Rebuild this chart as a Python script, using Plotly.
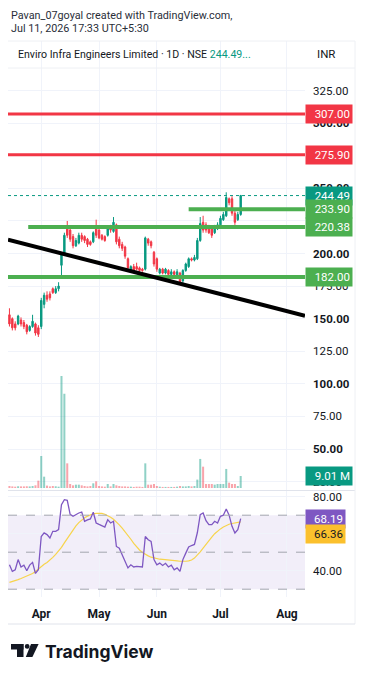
import plotly.graph_objects as go

# ---------------- data ----------------
bar_index = list(range(81))
opens = [153,150,146,146,149,147,145,141,144,146,143,
         144,161,168,169,173,170,173,191,200,220,218,213,206,208,214,213,211,209,209,
         220,218,214,213,214,220,217,222,211,207,205,196,187,190,190,189,188,188,211,209,
         201,196,185,188,185,187,184,186,183,185,179,187,190,196,195,196,210,224,222,220,
         219,216,219,222,226,229,242,242,231,226,230]
highs = [158,151,148,153,151,149,146,145,153,147,145,
         166,170,171,171,174,175,178,201,216,225,220,215,212,216,216,214,212,210,217,
         226,219,215,214,220,222,228,223,213,209,206,197,191,192,193,190,189,213,212,210,
         202,197,189,189,189,188,188,187,188,186,188,193,197,197,199,212,228,229,224,222,
         220,222,224,229,232,247,243,244,233,232,245]
lows = [144,141,141,145,144,142,138,140,143,137,136,
        142,158,163,164,169,169,171,183,199,212,209,204,205,207,209,208,205,206,208,
        212,211,210,209,213,216,216,207,204,202,196,187,186,185,187,186,186,187,206,204,
        190,186,184,184,184,183,183,183,182,176,177,186,189,194,194,195,209,216,216,215,
        212,215,218,221,225,228,237,229,222,225,229]
closes = [146,143,143,152,146,144,140,144,148,139,138,
          164,168,165,166,170,173,175,200,214,214,211,206,210,214,211,210,207,207,216,
          214,212,211,210,219,218,224,209,206,204,198,189,190,187,188,187,187,212,208,206,
          192,188,188,185,188,184,186,184,186,178,187,192,196,195,197,210,223,218,218,216,
          214,220,222,227,230,243,239,231,224,230,244.49]
volumes_m = [1.5,1.2,1.0,1.3,1.2,1.2,1.3,1.2,1.5,2.0,5.5,
             24,8.5,1.8,1.2,1.5,1.3,1.0,84,70.7,18.5,3,2,2.5,2.5,2.0,1.5,1.2,1.5,3.5,
             5.0,1.5,1.2,1.0,3.0,1.2,3.0,2.0,1.5,1.2,1.2,1.0,1.0,0.8,1.0,1.0,0.8,18.5,2.5,2.5,
             3.0,1.5,1.0,0.8,0.8,0.8,0.8,0.8,1.0,1.5,1.2,1.2,1.5,1.2,1.5,6.3,21.8,16,3,3,
             3,2.5,3,3,3,14.3,4,3,3,1.5,9.01]
rsi = [43.2,39.6,40.5,46,42,43,40,43,44.5,38.5,40.5,
       58.5,60.4,59.5,57.7,61.3,61.3,62.2,75.7,78.4,78,70.5,69.4,70.5,71.2,71.7,66.7,67.5,68,71.6,
       65.8,65,64.5,63.6,67.6,65.8,66.7,53.1,52.2,48.6,45,41.5,43.2,42,42.3,42,42,58.5,56.7,55.8,
       46,43.2,44.1,42.8,44,42,43,40.5,41.5,39.6,46,49.5,52.8,53.6,54.2,60.5,70.3,71.2,67,64.9,
       64.9,66.7,65.8,69.4,70,73.3,70,64,60.4,62.2,68.19]
rsi_ma = [33.7,34.1,34.6,35.2,35.8,36.4,37.0,37.7,38.5,39.6,40.9,
          42.5,43.5,44.4,45.6,47.2,48.8,50.6,52.6,55.0,57.4,59.6,62.0,64.2,66.0,67.5,68.6,69.5,70.2,70.7,
          71.0,71.2,71.0,70.5,69.8,68.9,67.8,66.5,64.8,63.0,61.2,59.2,57.0,54.8,52.8,51.2,49.8,48.8,48.0,47.3,
          46.8,46.4,46.2,46.1,46.0,45.9,45.7,45.5,45.3,45.1,45.0,45.1,45.3,45.8,46.8,48.4,50.2,52.2,54.4,56.4,
          58.2,60.0,61.4,62.6,63.6,64.5,65.1,65.5,65.8,66.1,66.36]
month_tick_index = [11, 31, 51, 73, 96]
month_labels = ["Apr", "May", "Jun", "Jul", "Aug"]
price_ticks = [25, 50, 75, 100, 125, 150, 175, 200, 225, 250, 275, 300, 325]
rsi_ticks = [40, 60, 80]
resistance_levels = [307.00, 275.90]
support_levels = [233.90, 220.38, 182.00]
support_start_index = [62, 6.5, -1]
trend_x = [-0.5, 102.25]
trend_y = [210.6, 152.3]
last_price = 244.49
last_volume_m = 9.01
rsi_last = 68.19
rsi_ma_last = 66.36

# ---------------- style / geometry ----------------
W, H = 365, 679
L, R, T, B = 8, 60, 41, 82
PW, PH = W - L - R, H - T - B
X_RANGE = [-0.5, 102.25]
GREEN_C = "#089981"
RED_C = "#f23645"
LEVEL_G = "#4caf50"
GRID = "#f0f3fa"
TXT = "#131722"
FONT = "Roboto"


def PX(px):
    return (px - L) / PW


def PY(py):
    return (H - B - py) / PH


vol_colors = ["rgba(8,153,129,0.45)" if c >= o else "rgba(242,54,69,0.45)"
              for o, c in zip(opens, closes)]

fig = go.Figure()
fig.add_trace(go.Bar(x=bar_index, y=volumes_m, marker_color=vol_colors, marker_line_width=0,
                     width=0.7, xaxis="x", yaxis="y3", hoverinfo="skip"))
fig.add_trace(go.Candlestick(x=bar_index, open=opens, high=highs, low=lows, close=closes,
                             increasing=dict(line=dict(color=GREEN_C, width=1), fillcolor=GREEN_C),
                             decreasing=dict(line=dict(color=RED_C, width=1), fillcolor=RED_C),
                             whiskerwidth=0, xaxis="x", yaxis="y"))
fig.add_trace(go.Scatter(x=bar_index, y=rsi_ma, mode="lines", line=dict(color="#f7d44c", width=1.2),
                         xaxis="x2", yaxis="y2", hoverinfo="skip"))
fig.add_trace(go.Scatter(x=bar_index, y=rsi, mode="lines", line=dict(color="#7e57c2", width=1.3),
                         xaxis="x2", yaxis="y2", hoverinfo="skip"))

shapes = []
# RSI band and guide lines
shapes.append(dict(type="rect", xref="x2", yref="y2", x0=X_RANGE[0], x1=X_RANGE[1], y0=30, y1=70,
                   fillcolor="rgba(126,87,194,0.1)", line_width=0, layer="below"))
for lv in [70, 50, 30]:
    shapes.append(dict(type="line", xref="x2", yref="y2", x0=X_RANGE[0], x1=X_RANGE[1], y0=lv, y1=lv,
                       line=dict(color="#a3a6af", width=1, dash="dash")))
# last price dotted line
shapes.append(dict(type="line", xref="x", yref="y", x0=X_RANGE[0], x1=X_RANGE[1], y0=last_price,
                   y1=last_price, line=dict(color=GREEN_C, width=1, dash="dot")))
for lv in resistance_levels:
    shapes.append(dict(type="line", xref="x", yref="y", x0=-1, x1=X_RANGE[1], y0=lv, y1=lv,
                       line=dict(color=RED_C, width=3)))
for lv, st in zip(support_levels, support_start_index):
    shapes.append(dict(type="line", xref="x", yref="y", x0=st, x1=X_RANGE[1], y0=lv, y1=lv,
                       line=dict(color=LEVEL_G, width=4)))
shapes.append(dict(type="line", xref="x", yref="y", x0=trend_x[0], x1=trend_x[1], y0=trend_y[0],
                   y1=trend_y[1], line=dict(color="#000000", width=4)))
# pane separators / frame
shapes.append(dict(type="line", xref="paper", yref="paper", x0=0, x1=PX(355), y0=PY(490.5), y1=PY(490.5),
                   line=dict(color="#e0e3eb", width=1)))
shapes.append(dict(type="line", xref="paper", yref="paper", x0=PX(355), x1=PX(355), y0=PY(624), y1=PY(41),
                   line=dict(color="#eef0f4", width=1)))
shapes.append(dict(type="line", xref="paper", yref="paper", x0=0, x1=PX(355), y0=PY(624), y1=PY(624),
                   line=dict(color="#e0e3eb", width=1)))
shapes.append(dict(type="line", xref="paper", yref="paper", x0=0, x1=PX(355), y0=PY(41), y1=PY(41),
                   line=dict(color="#eef0f4", width=1)))
shapes.append(dict(type="line", xref="paper", yref="paper", x0=0, x1=PX(355), y0=PY(68), y1=PY(68),
                   line=dict(color="#eef0f4", width=1)))
# TradingView logo mark
shapes.append(dict(type="rect", xref="paper", yref="paper", x0=PX(11), x1=PX(23.5), y0=PY(649.5), y1=PY(644),
                   fillcolor="#131722", line_width=0))
shapes.append(dict(type="rect", xref="paper", yref="paper", x0=PX(17), x1=PX(23.5), y0=PY(657), y1=PY(644),
                   fillcolor="#131722", line_width=0))
shapes.append(dict(type="circle", xref="paper", yref="paper", x0=PX(24.8), x1=PX(29.6), y0=PY(648.8),
                   y1=PY(644), fillcolor="#131722", line_width=0))
shapes.append(dict(type="path", xref="paper", yref="paper",
                   path=f"M {PX(31)} {PY(644)} L {PX(38.6)} {PY(644)} L {PX(32.4)} {PY(657)} L {PX(25.8)} {PY(657)} Z",
                   fillcolor="#131722", line_width=0))

ann = []


def price_label(val, text, bg, yref, fg="white", width=42, yshift=0):
    ann.append(dict(x=1, xref="paper", y=val, yref=yref, xanchor="left", yanchor="middle",
                    text=text, showarrow=False, bgcolor=bg, borderpad=2, width=width, align="right",
                    yshift=yshift, font=dict(family=FONT, size=11.5, color=fg)))


for lv in resistance_levels:
    price_label(lv, f"{lv:.2f}", RED_C, "y")
price_label(last_price, f"{last_price:.2f}", GREEN_C, "y")
for lv in support_levels:
    price_label(lv, f"{lv:.2f}", LEVEL_G, "y")
price_label(last_volume_m, f"{last_volume_m:.2f} M", GREEN_C, "y3")
price_label(rsi_last, f"{rsi_last:.2f}", "#7e57c2", "y2", width=35)
# stacked below the RSI label, as the platform does to avoid overlap
price_label(rsi_ma_last, f"{rsi_ma_last:.2f}", "#fbc02d", "y2", fg=TXT, width=35, yshift=-12)

ann.append(dict(x=PX(9), y=PY(15), xref="paper", yref="paper", xanchor="left", yanchor="middle",
                text="Pavan_07goyal created with TradingView.com,", showarrow=False,
                font=dict(family=FONT, size=10.8, color="#2a2e39")))
ann.append(dict(x=PX(9), y=PY(29), xref="paper", yref="paper", xanchor="left", yanchor="middle",
                text="Jul 11, 2026 17:33 UTC+5:30", showarrow=False,
                font=dict(family=FONT, size=10.8, color="#2a2e39")))
ann.append(dict(x=PX(16), y=PY(54.5), xref="paper", yref="paper", xanchor="left", yanchor="middle",
                text=f"Enviro Infra Engineers Limited · 1D · NSE <span style='color:{GREEN_C}'>{last_price:.2f}...</span>",
                showarrow=False, font=dict(family=FONT, size=10.6, color=TXT)))
ann.append(dict(x=PX(326), y=PY(54.5), xref="paper", yref="paper", xanchor="center", yanchor="middle",
                text="INR", showarrow=False, font=dict(family=FONT, size=11.5, color=TXT)))
ann.append(dict(x=PX(43), y=PY(651), xref="paper", yref="paper", xanchor="left", yanchor="middle",
                text="<b>TradingView</b>", showarrow=False, font=dict(family="Inter", size=17.5, color="#131722")))

price_ticktext = [f"<b>{v:.2f}</b>" if v % 50 == 0 else f"{v:.2f}" for v in price_ticks]

main_bottom = PY(490)
rsi_top = PY(491)

fig.update_layout(
    width=W, height=H, margin=dict(l=L, r=R, t=T, b=B),
    paper_bgcolor="white", plot_bgcolor="white", showlegend=False,
    font=dict(family=FONT, color=TXT),
    shapes=shapes, annotations=ann,
    xaxis=dict(domain=[0, 1], anchor="y", range=X_RANGE, tickvals=month_tick_index, showticklabels=False,
               showgrid=True, gridcolor=GRID, zeroline=False, rangeslider=dict(visible=False), fixedrange=True),
    xaxis2=dict(domain=[0, 1], anchor="y2", range=X_RANGE, matches="x", tickvals=month_tick_index,
                ticktext=[f"<b>{m}</b>" for m in month_labels], showgrid=True, gridcolor=GRID,
                zeroline=False, tickfont=dict(family=FONT, size=12, color=TXT), ticks="", ticklabelstandoff=8),
    yaxis=dict(domain=[main_bottom, 1], anchor="x", side="right", range=[18.55, 363.1], tickvals=price_ticks,
               ticktext=price_ticktext, showgrid=True, gridcolor=GRID, zeroline=False,
               tickfont=dict(family=FONT, size=11.5, color=TXT), ticks="", ticklabelstandoff=7),
    yaxis3=dict(overlaying="y", anchor="x", range=[-1.5, 335.3], visible=False),
    yaxis2=dict(domain=[0, rsi_top], anchor="x2", side="right", range=[25.78, 83.08], tickvals=rsi_ticks,
                ticktext=[f"{v:.2f}" for v in rsi_ticks], showgrid=True, gridcolor=GRID, zeroline=False,
                tickfont=dict(family=FONT, size=11.5, color=TXT), ticks="", ticklabelstandoff=7),
)

fig.write_html("out.html")
